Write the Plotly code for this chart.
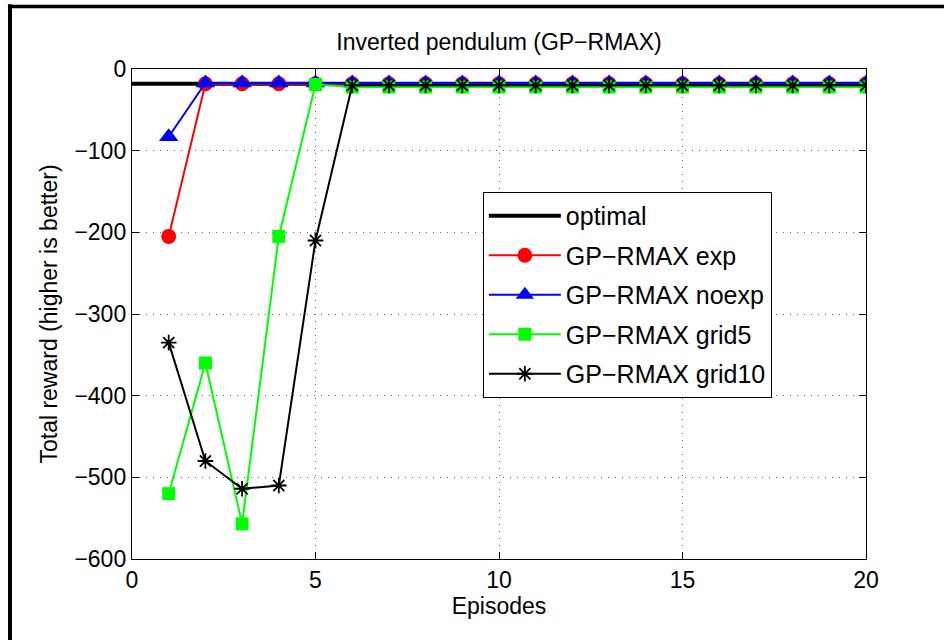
import plotly.graph_objects as go

episodes = list(range(1, 21))
optimal_x = [0, 20]
optimal_y = [-18, -18]
exp_vals = [-205] + [-18] * 19
noexp_vals = [-83] + [-17] * 19
grid5_vals = [-520, -360, -557, -205, -19] + [-22] * 15
grid10_vals = [-335, -480, -514, -510, -210] + [-20] * 15

x_ticks = [0, 5, 10, 15, 20]
y_ticks = [0, -100, -200, -300, -400, -500, -600]

FONT = "Liberation Sans, Arial, sans-serif"
FS = 23

fig = go.Figure()
fig.add_trace(go.Scatter(x=optimal_x, y=optimal_y, mode="lines", name="optimal", legendgroup="a",
                         line=dict(color="black", width=4)))
fig.add_trace(go.Scatter(x=episodes, y=exp_vals, mode="lines+markers", name="GP\u2212RMAX exp", legendgroup="b",
                         line=dict(color="#ff0000", width=2),
                         marker=dict(symbol="circle", size=15, color="#ff0000")))
fig.add_trace(go.Scatter(x=episodes, y=noexp_vals, mode="lines+markers", name="GP\u2212RMAX noexp", legendgroup="c",
                         line=dict(color="#0000ff", width=2),
                         marker=dict(symbol="triangle-up", size=17, color="#0000ff")))
fig.add_trace(go.Scatter(x=episodes, y=grid5_vals, mode="lines+markers", name="GP\u2212RMAX grid5", legendgroup="d",
                         line=dict(color="#00ff00", width=2),
                         marker=dict(symbol="square", size=13, color="#00ff00")))
fig.add_trace(go.Scatter(x=episodes, y=grid10_vals, mode="lines+markers", name="GP\u2212RMAX grid10", legendgroup="e",
                         line=dict(color="black", width=2),
                         marker=dict(symbol="asterisk-open", size=13, color="black",
                                     line=dict(color="black", width=1.8))))

axis_common = dict(showline=True, linecolor="black", linewidth=1.4, mirror="ticks",
                   ticks="inside", ticklen=7, tickcolor="black", tickwidth=1,
                   showgrid=True, gridcolor="#666666", griddash="1px,6px", gridwidth=1,
                   zeroline=False, tickfont=dict(family=FONT, size=FS, color="black"))

fig.update_xaxes(range=[0, 20], tickvals=x_ticks, ticktext=[str(v) for v in x_ticks],
                 title=dict(text="Episodes", font=dict(family=FONT, size=FS, color="black"), standoff=0),
                 **axis_common)
fig.update_yaxes(range=[-600, 0], tickvals=y_ticks,
                 ticktext=[("\u2212" + str(-v)) if v < 0 else str(v) for v in y_ticks],
                 title=dict(text="Total reward (higher is better)", font=dict(family=FONT, size=FS, color="black"), standoff=10),
                 **axis_common)

fig.update_layout(
    width=944, height=640,
    margin=dict(l=132, r=78, t=69, b=81),
    paper_bgcolor="white", plot_bgcolor="white",
    title=dict(text="Inverted pendulum (GP\u2212RMAX)", x=0.5, xanchor="center",
               y=1 - 42 / 640, yanchor="middle", xref="paper",
               font=dict(family=FONT, size=23, color="black")),
    showlegend=True,
    legend=dict(x=0.478, y=0.749, xanchor="left", yanchor="top",
                bordercolor="black", borderwidth=1, bgcolor="white",
                font=dict(family=FONT, size=25, color="black"),
                itemwidth=72, tracegroupgap=4),
    shapes=[
        dict(type="line", xref="paper", yref="paper", x0=-0.1662, x1=-0.1662, y0=1.132, y1=-0.2,
             line=dict(color="black", width=4)),
        dict(type="line", xref="paper", yref="paper", x0=-0.169, x1=1.2, y0=1.1276, y1=1.1276,
             line=dict(color="black", width=3.5)),
    ],
)

fig.write_html("out.html", config={"displayModeBar": False},
               post_script="document.body.style.margin='0';")
